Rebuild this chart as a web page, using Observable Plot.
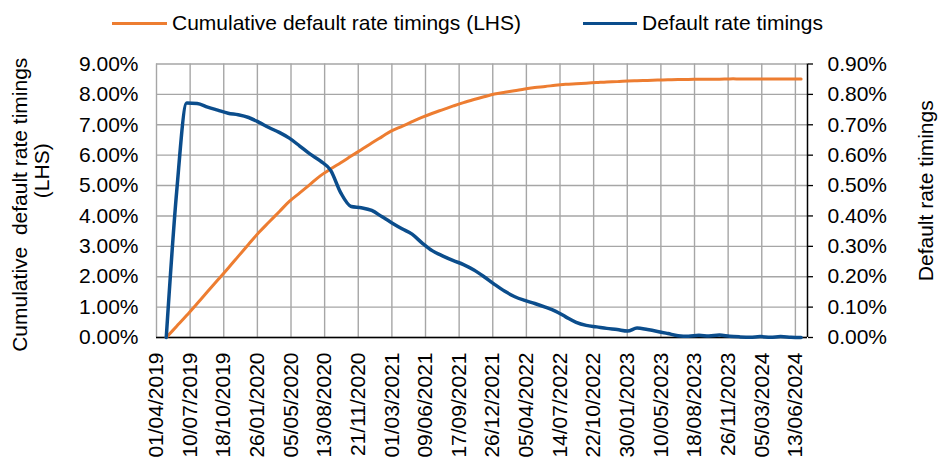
<!DOCTYPE html>
<html>
<head>
<meta charset="utf-8">
<script src="https://cdn.jsdelivr.net/npm/d3@7"></script>
<script src="https://cdn.jsdelivr.net/npm/@observablehq/plot@0.6"></script>
<style>
  html, body { margin: 0; padding: 0; background: #fff; }
  #wrap { width: 938px; height: 457px; position: relative; overflow: hidden; font-family: "Liberation Sans", Arial, sans-serif; }
  #legend { position: relative; width: 938px; height: 44px; }
  .sw { position: absolute; height: 3.5px; }
  .lt { position: absolute; font-size: 21px; line-height: 24px; color: #000; white-space: nowrap; }
  svg { display: block; }
</style>
</head>
<body>
<div id="wrap">
  <div id="legend">
    <div class="sw" style="left:112px; top:21.5px; width:55px; background:#ED7D31;"></div>
    <div class="lt" style="left:172px; top:11px;">Cumulative default rate timings (LHS)</div>
    <div class="sw" style="left:583px; top:21.5px; width:54px; background:#0B4D8C;"></div>
    <div class="lt" style="left:642px; top:11px;">Default rate timings</div>
  </div>
  <div id="chart"></div>
</div>
<script>
// ---- data ----
const monthEnds = [
  "2019-04-30","2019-05-31","2019-06-30","2019-07-31","2019-08-31","2019-09-30","2019-10-31","2019-11-30","2019-12-31",
  "2020-01-31","2020-02-29","2020-03-31","2020-04-30","2020-05-31","2020-06-30","2020-07-31","2020-08-31","2020-09-30","2020-10-31","2020-11-30","2020-12-31",
  "2021-01-31","2021-02-28","2021-03-31","2021-04-30","2021-05-31","2021-06-30","2021-07-31","2021-08-31","2021-09-30","2021-10-31","2021-11-30","2021-12-31",
  "2022-01-31","2022-02-28","2022-03-31","2022-04-30","2022-05-31","2022-06-30","2022-07-31","2022-08-31","2022-09-30","2022-10-31","2022-11-30","2022-12-31",
  "2023-01-31","2023-02-28","2023-03-31","2023-04-30","2023-05-31","2023-06-30","2023-07-31","2023-08-31","2023-09-30","2023-10-31","2023-11-30","2023-12-31",
  "2024-01-31","2024-02-29","2024-03-31","2024-04-30","2024-05-31","2024-06-30"
];
// Cumulative default rate timings (LHS), in %
const cumulativeRate = [
  0.00, 0.37, 0.73, 1.12, 1.51, 1.89, 2.28, 2.67, 3.07,
  3.46, 3.79, 4.14, 4.48, 4.76, 5.03, 5.32, 5.55, 5.75, 5.97, 6.18, 6.40,
  6.61, 6.80, 6.95, 7.10, 7.25, 7.38, 7.50, 7.62, 7.73, 7.83, 7.92, 8.01,
  8.07, 8.12, 8.18, 8.23, 8.26, 8.30, 8.33, 8.35, 8.37, 8.39, 8.41, 8.42,
  8.44, 8.45, 8.46, 8.47, 8.48, 8.49, 8.49, 8.50, 8.50, 8.50, 8.51, 8.51,
  8.51, 8.51, 8.51, 8.51, 8.51, 8.51
];
// Default rate timings (RHS), in %
const defaultRate = [
  0.000, 0.480, 0.772, 0.770, 0.758, 0.748, 0.738, 0.733, 0.724,
  0.708, 0.691, 0.675, 0.656, 0.630, 0.604, 0.581, 0.550, 0.476, 0.431, 0.427, 0.418,
  0.397, 0.378, 0.358, 0.340, 0.310, 0.285, 0.268, 0.253, 0.240, 0.222, 0.200, 0.175,
  0.152, 0.135, 0.122, 0.112, 0.100, 0.087, 0.068, 0.050, 0.040, 0.035, 0.030, 0.026,
  0.021, 0.031, 0.026, 0.020, 0.013, 0.006, 0.004, 0.007, 0.005, 0.008, 0.004, 0.002,
  0.001, 0.003, 0.001, 0.003, 0.001, 0.000
];
const xTickLabels = [
  "01/04/2019","10/07/2019","18/10/2019","26/01/2020","05/05/2020","13/08/2020","21/11/2020",
  "01/03/2021","09/06/2021","17/09/2021","26/12/2021","05/04/2022","14/07/2022","22/10/2022",
  "30/01/2023","10/05/2023","18/08/2023","26/11/2023","05/03/2024","13/06/2024"
];
const xDomainLabels = ["01/04/2019", "19/07/2024"];
const leftTicks = [0, 1, 2, 3, 4, 5, 6, 7, 8, 9];
const leftTickLabels = ["0.00%","1.00%","2.00%","3.00%","4.00%","5.00%","6.00%","7.00%","8.00%","9.00%"];
const rightTicks = [0, 0.1, 0.2, 0.3, 0.4, 0.5, 0.6, 0.7, 0.8, 0.9];
const rightTickLabels = ["0.00%","0.10%","0.20%","0.30%","0.40%","0.50%","0.60%","0.70%","0.80%","0.90%"];
const seriesNames = ["Cumulative default rate timings (LHS)", "Default rate timings"];
const leftTitle = ["Cumulative\u00a0 default rate timings", "(LHS)"];
const rightTitle = "Default rate timings";

// ---- build ----
const parseDMY = d3.utcParse("%d/%m/%Y");
const parseISO = d3.utcParse("%Y-%m-%d");
const xTicks = xTickLabels.map(parseDMY);
const xDomain = xDomainLabels.map(parseDMY);
const rightScale = 10; // right axis max 0.9% vs left 9%

const cumData = monthEnds.map((d, i) => ({date: parseISO(d), v: cumulativeRate[i]}));
const defData = monthEnds.map((d, i) => ({date: parseISO(d), v: defaultRate[i] * rightScale}));

const ORANGE = "#ED7D31";
const BLUE = "#0B4D8C";
const GRID = "#a6a6a6";

const chart = Plot.plot({
  width: 938,
  height: 413,
  marginLeft: 156,
  marginRight: 131,
  marginTop: 19.5,
  marginBottom: 120,
  style: {fontFamily: "'Liberation Sans', Arial, sans-serif", fontSize: "21px", color: "#000", background: "#fff", overflow: "visible"},
  x: {type: "utc", domain: xDomain},
  y: {domain: [0, 9]},
  marks: [
    Plot.gridX(xTicks, {stroke: GRID, strokeOpacity: 1, strokeWidth: 1.4}),
    Plot.gridY(leftTicks, {stroke: GRID, strokeOpacity: 1, strokeWidth: 1.4}),
    Plot.axisY(leftTicks, {anchor: "left", tickSize: 0, tickPadding: 18, tickFormat: (d, i) => leftTickLabels[i], label: null, fill: "#000"}),
    Plot.axisY(rightTicks.map(d => d * rightScale), {anchor: "right", tickSize: 5, tickPadding: 15, tickFormat: (d, i) => rightTickLabels[i], label: null, stroke: "#000", strokeWidth: 1.3, fill: "#000"}),
    Plot.axisX(xTicks, {anchor: "bottom", tickSize: 0, tickPadding: 15, tickRotate: -90, fontSize: 21, tickFormat: (d, i) => xTickLabels[i], label: null, fill: "#000"}),
    Plot.ruleX([xDomain[1]], {stroke: "#000", strokeWidth: 1.5}),
    Plot.ruleY([0], {stroke: "#000", strokeWidth: 1.5}),
    Plot.line(cumData, {x: "date", y: "v", stroke: ORANGE, strokeWidth: 3, curve: "catmull-rom"}),
    Plot.line(defData, {x: "date", y: "v", stroke: BLUE, strokeWidth: 3.5, curve: "monotone-x"}),
    Plot.text([leftTitle[0]], {frameAnchor: "left", text: d => d, rotate: -90, textAnchor: "middle", lineAnchor: "middle", dx: -136, dy: 4, fill: "#000"}),
    Plot.text([leftTitle[1]], {frameAnchor: "left", text: d => d, rotate: -90, textAnchor: "middle", lineAnchor: "middle", dx: -114, dy: -30, fill: "#000"}),
    Plot.text([rightTitle], {frameAnchor: "right", text: d => d, rotate: -90, textAnchor: "middle", lineAnchor: "middle", dx: 119, dy: -10, fill: "#000"})
  ]
});
document.getElementById("chart").appendChild(chart);
</script>
</body>
</html>
